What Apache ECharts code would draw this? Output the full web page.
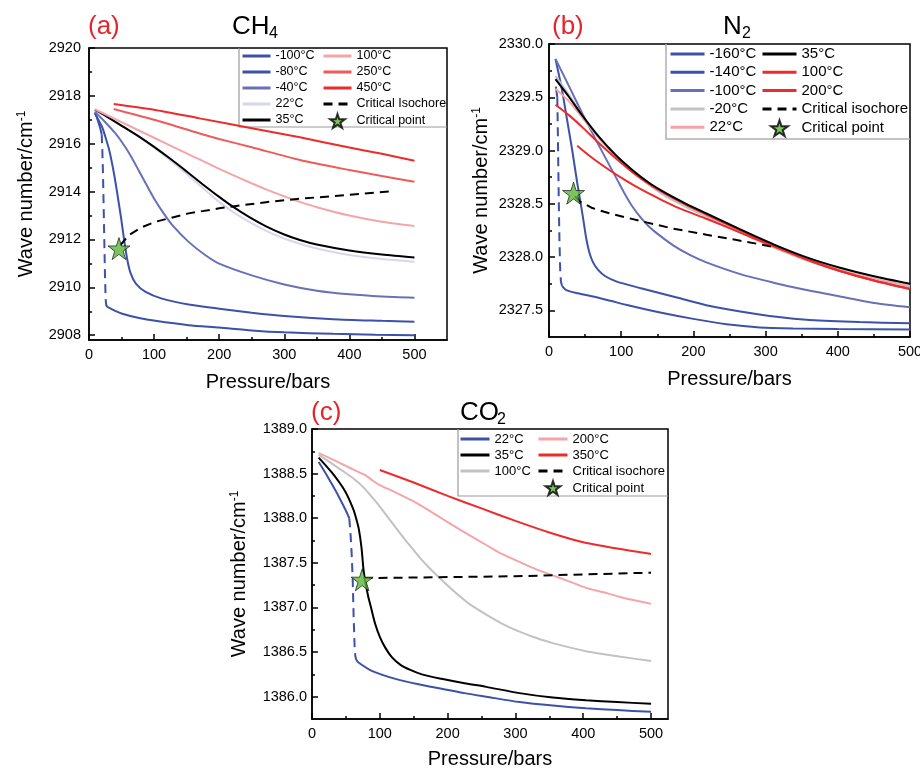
<!DOCTYPE html>
<html>
<head>
<meta charset="utf-8">
<script src="https://cdn.jsdelivr.net/npm/echarts@6/dist/echarts.min.js"></script>
<style>
html, body { margin: 0; background: #fff; }
#main { width: 920px; height: 768px; }
</style>
</head>
<body>
<div id="main"></div>
<script>
// ---- data: [pressure (bars), wave number (cm-1)] ----

// (a) CH4
var ch4_m100_lo = [[9,2917.27],[12,2917.1],[15,2916.85],[17.5,2916.62],[19.5,2916.4]];
var ch4_m100_jump = [[19.5,2916.4],[20.5,2915.7],[21.5,2914.76],[23,2912.67],[24.5,2910.58],[25.6,2909.5],[26.5,2909.26],[28,2909.18]];
var ch4_m100_hi = [[28,2909.18],[40,2909.02],[51,2908.9],[77,2908.72],[102,2908.6],[153,2908.42],[200,2908.32],[250,2908.2],[300,2908.12],[375,2908.06],[440,2908.02],[500,2908.0]];
var ch4_m80 = [[9,2917.3],[14,2917.02],[20,2916.71],[25,2916.3],[31,2915.74],[36,2915.1],[41,2914.34],[45,2913.65],[49,2912.95],[54,2911.97],[59,2911.13],[64,2910.58],[72,2910.16],[87,2909.81],[112,2909.53],[153,2909.28],[200,2909.11],[250,2908.94],[300,2908.8],[375,2908.67],[450,2908.6],[500,2908.56]];
var ch4_m40 = [[9,2917.34],[25,2916.9],[40,2916.45],[51,2916.05],[64,2915.5],[77,2914.85],[90,2914.2],[102,2913.62],[115,2913.08],[128,2912.6],[153,2911.9],[179,2911.34],[200,2910.99],[250,2910.5],[300,2910.12],[350,2909.86],[400,2909.71],[450,2909.62],[500,2909.57]];
var ch4_22 = [[9,2917.42],[25,2917.17],[51,2916.74],[77,2916.29],[100,2915.84],[125,2915.31],[150,2914.74],[175,2914.15],[200,2913.57],[221,2913.15],[247,2912.72],[272,2912.36],[300,2912.04],[324,2911.82],[350,2911.62],[400,2911.35],[450,2911.18],[500,2911.07]];
var ch4_35 = [[9,2917.42],[25,2917.17],[51,2916.74],[77,2916.3],[100,2915.87],[125,2915.37],[150,2914.84],[175,2914.3],[200,2913.78],[221,2913.37],[247,2912.92],[272,2912.55],[300,2912.21],[324,2911.98],[350,2911.79],[400,2911.54],[450,2911.37],[500,2911.25]];
var ch4_100 = [[9,2917.44],[50,2916.9],[100,2916.25],[150,2915.6],[200,2914.95],[247,2914.38],[275,2914.06],[300,2913.8],[324,2913.57],[350,2913.35],[400,2913.0],[450,2912.74],[500,2912.56]];
var ch4_250 = [[38,2917.45],[100,2917.0],[170,2916.43],[200,2916.2],[250,2915.85],[324,2915.32],[400,2914.9],[450,2914.65],[500,2914.41]];
var ch4_450 = [[38,2917.66],[100,2917.42],[170,2917.06],[250,2916.65],[324,2916.27],[400,2915.84],[450,2915.58],[500,2915.29]];
var ch4_iso = [[48,2911.75],[61,2912.18],[80,2912.5],[102,2912.74],[153,2913.09],[200,2913.3],[221,2913.38],[272,2913.56],[324,2913.7],[400,2913.87],[469,2914.02]];
var ch4_cp = [[46,2911.62]];

// (b) N2
var n2_m160_lo = [[9.5,2329.6],[11.5,2329.5]];
var n2_m160_jump = [[11.5,2329.5],[12.5,2329.05],[13.5,2328.55],[14.5,2328.15],[15.5,2327.88],[16.5,2327.77],[18,2327.73]];
var n2_m160_hi = [[18,2327.73],[24,2327.69],[40,2327.66],[61,2327.63],[85,2327.59],[108,2327.55],[154,2327.48],[200,2327.42],[246,2327.37],[292,2327.34],[338,2327.33],[400,2327.325],[500,2327.32]];
var n2_m140 = [[9,2329.86],[18,2329.57],[25,2329.29],[32,2329.01],[39,2328.7],[44,2328.5],[48,2328.33],[52,2328.16],[56,2328.04],[61,2327.95],[68,2327.88],[78,2327.82],[94,2327.77],[126,2327.71],[177,2327.62],[223,2327.54],[265,2327.49],[315,2327.44],[361,2327.41],[430,2327.39],[500,2327.38]];
var n2_m100 = [[9,2329.86],[28,2329.6],[46,2329.35],[65,2329.1],[83,2328.87],[95,2328.72],[106,2328.58],[115,2328.48],[126,2328.38],[138,2328.29],[150,2328.22],[172,2328.11],[195,2328.02],[218,2327.95],[265,2327.84],[311,2327.76],[350,2327.7],[403,2327.63],[450,2327.57],[500,2327.53]];
var n2_m20 = [[9,2329.7],[28,2329.52],[46,2329.33],[69,2329.12],[92,2328.95],[115,2328.8],[138,2328.68],[162,2328.57],[190,2328.47],[218,2328.38],[265,2328.23],[311,2328.09],[360,2327.96],[403,2327.87],[450,2327.79],[500,2327.72]];
var n2_22 = [[9,2329.58],[28,2329.46],[46,2329.31],[69,2329.12],[92,2328.95],[115,2328.81],[138,2328.69],[162,2328.59],[190,2328.49],[218,2328.4],[265,2328.25],[311,2328.11],[360,2327.98],[403,2327.88],[450,2327.8],[500,2327.73]];
var n2_35 = [[9,2329.67],[28,2329.5],[46,2329.33],[69,2329.13],[92,2328.96],[115,2328.82],[138,2328.7],[162,2328.6],[190,2328.5],[218,2328.41],[265,2328.26],[311,2328.12],[360,2327.99],[403,2327.9],[450,2327.82],[500,2327.75]];
var n2_100 = [[9,2329.43],[28,2329.33],[46,2329.22],[69,2329.07],[92,2328.93],[115,2328.8],[138,2328.69],[162,2328.59],[190,2328.49],[218,2328.4],[265,2328.25],[311,2328.11],[360,2327.97],[403,2327.87],[450,2327.78],[500,2327.7]];
var n2_200 = [[39,2329.045],[60,2328.93],[83,2328.82],[106,2328.72],[129,2328.63],[155,2328.54],[180,2328.46],[218,2328.36],[265,2328.23],[311,2328.1],[360,2327.97],[403,2327.87],[450,2327.78],[500,2327.7]];
var n2_iso = [[36,2328.57],[43,2328.52],[60,2328.46],[84,2328.41],[126,2328.34],[170,2328.27],[218,2328.21],[260,2328.16],[292,2328.12],[315,2328.09]];
var n2_cp = [[34,2328.6]];

// (c) CO2
var co2_22_lo = [[9.8,1388.63],[19.6,1388.51],[29.5,1388.38],[39,1388.25],[49,1388.1],[55,1388.0]];
var co2_22_jump = [[55,1388.0],[57,1387.8],[58.5,1387.6],[60,1387.32],[61.4,1386.9],[63,1386.53],[64,1386.45],[65.5,1386.41]];
var co2_22_hi = [[65.5,1386.41],[69,1386.38],[88,1386.29],[123,1386.2],[157,1386.14],[191,1386.09],[225,1386.04],[257,1386.0],[306,1385.94],[355,1385.9],[404,1385.87],[450,1385.85],[500,1385.83]];
var co2_35 = [[9.8,1388.68],[29.5,1388.51],[49,1388.3],[61,1388.1],[65,1388.0],[69,1387.88],[73,1387.67],[76,1387.42],[79,1387.27],[83,1387.12],[88,1386.97],[93,1386.82],[100,1386.67],[108,1386.55],[118,1386.44],[130,1386.36],[145,1386.3],[162,1386.25],[191,1386.2],[225,1386.15],[257,1386.11],[306,1386.04],[355,1385.99],[404,1385.96],[450,1385.94],[500,1385.92]];
var co2_100 = [[9.8,1388.71],[30,1388.61],[49,1388.51],[62,1388.44],[74,1388.36],[86,1388.26],[98,1388.15],[110,1388.03],[123,1387.9],[135,1387.78],[147,1387.67],[160,1387.55],[172,1387.45],[191,1387.31],[208,1387.19],[232,1387.04],[257,1386.92],[280,1386.82],[306,1386.73],[330,1386.66],[355,1386.6],[404,1386.51],[453,1386.45],[500,1386.4]];
var co2_200 = [[9.8,1388.73],[30,1388.66],[49,1388.59],[65,1388.53],[79,1388.48],[90,1388.42],[98,1388.38],[123,1388.29],[147,1388.2],[170,1388.1],[191,1388.0],[208,1387.92],[232,1387.81],[257,1387.7],[280,1387.6],[306,1387.51],[330,1387.43],[355,1387.36],[380,1387.29],[404,1387.22],[430,1387.17],[453,1387.12],[475,1387.08],[500,1387.04]];
var co2_350 = [[100,1388.54],[150,1388.4],[200,1388.25],[250,1388.11],[300,1387.97],[350,1387.84],[400,1387.73],[450,1387.66],[500,1387.6]];
var co2_iso = [[76,1387.33],[150,1387.335],[200,1387.34],[300,1387.35],[400,1387.37],[500,1387.39]];
var co2_cp = [[74,1387.31]];

// tick values
var xMajor = [0, 100, 200, 300, 400, 500];
var xMinor = [50, 150, 250, 350, 450];
var yMajorA = [2908, 2910, 2912, 2914, 2916, 2918, 2920];
var yMinorA = [2909, 2911, 2913, 2915, 2917, 2919];
var yMajorB = [2327.5, 2328, 2328.5, 2329, 2329.5, 2330];
var yMinorB = [2327.75, 2328.25, 2328.75, 2329.25, 2329.75];
var yMajorC = [1386, 1386.5, 1387, 1387.5, 1388, 1388.5, 1389];
var yMinorC = [1386.25, 1386.75, 1387.25, 1387.75, 1388.25, 1388.75];

var FONT = '"Liberation Sans", Arial, sans-serif';
var DBLUE = '#3d51a8', MBLUE = '#6a70b8', LAV = '#d7d7ec', PINK = '#f4a5a9',
    RED = '#ee2a2a', RED2 = '#ef5b5b', GREY = '#c2c2c2', BLACK = '#000';
var STAR = 'path://M50,0 L61.2,34.5 L97.6,34.5 L68.2,55.9 L79.4,90.5 L50,69.1 L20.6,90.5 L31.8,55.9 L2.4,34.5 L38.8,34.5 Z';

function ln(name, data, color, g, dashed) {
    return {
        type: 'line', name: name, data: data, xAxisIndex: g, yAxisIndex: g,
        symbol: 'none', smooth: dashed ? false : 0.25, silent: true,
        lineStyle: { color: color, width: 2, type: dashed ? [9, 6] : 'solid' },
        itemStyle: { color: color }, z: 3
    };
}
function cp(name, data, g) {
    return {
        type: 'scatter', name: name, data: data, xAxisIndex: g, yAxisIndex: g,
        symbol: STAR, symbolSize: 22, silent: true, z: 6,
        itemStyle: { color: '#5cb53a', borderColor: '#000', borderWidth: 0.8 }
    };
}

function xAx(g, max, gap) {
    return {
        type: 'value', gridIndex: g, min: 0, max: max,
        name: 'Pressure/bars', nameLocation: 'middle', nameGap: gap, nameMoveOverlap: false,
        nameTextStyle: { fontSize: 20, color: '#000', fontFamily: FONT },
        axisLine: { lineStyle: { color: '#000', width: 1.5 } },
        axisTick: { inside: true, length: 6, customValues: xMajor, lineStyle: { color: '#000', width: 1.5 } },
        axisLabel: { customValues: xMajor, color: '#000', fontSize: 14.5, margin: 7, fontFamily: FONT },
        splitLine: { show: false }
    };
}
function xMin(g, max) {
    return {
        type: 'value', gridIndex: g, min: 0, max: max, position: 'bottom',
        axisLine: { show: false },
        axisTick: { inside: true, length: 3, customValues: xMinor, lineStyle: { color: '#000', width: 1.5 } },
        axisLabel: { show: false }, splitLine: { show: false }
    };
}
function yAx(g, min, max, major, dec, gap, margin) {
    return {
        type: 'value', gridIndex: g, min: min, max: max,
        name: 'Wave number/cm{sup|-1}', nameLocation: 'middle', nameGap: gap, nameMoveOverlap: false,
        nameTextStyle: { fontSize: 20, color: '#000', fontFamily: FONT,
            rich: { sup: { fontSize: 12, verticalAlign: 'top', color: '#000', fontFamily: FONT } } },
        axisLine: { lineStyle: { color: '#000', width: 1.5 } },
        axisTick: { inside: true, length: 6, customValues: major, lineStyle: { color: '#000', width: 1.5 } },
        axisLabel: { customValues: major, color: '#000', fontSize: 14.5, margin: margin, fontFamily: FONT,
            formatter: function (v) { return v.toFixed(dec); } },
        splitLine: { show: false }
    };
}
function yMin(g, min, max, minor) {
    return {
        type: 'value', gridIndex: g, min: min, max: max, position: 'left',
        axisLine: { show: false },
        axisTick: { inside: true, length: 3, customValues: minor, lineStyle: { color: '#000', width: 1.5 } },
        axisLabel: { show: false }, splitLine: { show: false }
    };
}
// legend column; line items hide the default circle marker, the star keeps its symbol
function lg(names, left, top, w, h, gap, fs) {
    var items = names.map(function (n) {
        return /Critical point/.test(n) ? { name: n } : { name: n, itemStyle: { opacity: 0 } };
    });
    return {
        orient: 'vertical', left: left, top: top, padding: 0, itemWidth: w, itemHeight: h, itemGap: gap,
        selectedMode: false, data: items, lineStyle: { width: 3 },
        formatter: function (n) { return n.slice(2); },
        textStyle: { fontSize: fs, lineHeight: h, color: '#000', fontFamily: FONT }
    };
}
function ttl(text, left, top, size, color) {
    return { text: text, left: left, top: top, padding: 0,
        textStyle: { fontSize: size, fontWeight: 'normal', color: color, fontFamily: FONT } };
}

var myChart = echarts.init(document.getElementById('main'), null, { renderer: 'canvas' });
var option = {
    animation: false,
    backgroundColor: '#fff',
    textStyle: { fontFamily: FONT },
    title: [
        ttl('(a)', 88, 14, 26, '#e8232a'), ttl('CH', 232, 14, 26, '#000'), ttl('4', 269, 26, 16, '#000'),
        ttl('(b)', 552, 14, 26, '#e8232a'), ttl('N', 723, 14, 26, '#000'), ttl('2', 742, 26, 16, '#000'),
        ttl('(c)', 311, 400, 26, '#e8232a'), ttl('CO', 460, 400, 26, '#000'), ttl('2', 497, 412, 16, '#000')
    ],
    grid: [
        { left: 89, top: 48, width: 358, height: 292, show: true, borderColor: '#000', borderWidth: 1.5, outerBoundsMode: 'none' },
        { left: 549, top: 44, width: 361, height: 293, show: true, borderColor: '#000', borderWidth: 1.5, outerBoundsMode: 'none' },
        { left: 312, top: 429, width: 356, height: 290, show: true, borderColor: '#000', borderWidth: 1.5, outerBoundsMode: 'none' }
    ],
    xAxis: [xAx(0, 550, 32), xAx(1, 500, 32), xAx(2, 525, 30), xMin(0, 550), xMin(1, 500), xMin(2, 525)],
    yAxis: [
        yAx(0, 2907.8, 2920, yMajorA, 0, 53, 8),
        yAx(1, 2327.25, 2330, yMajorB, 1, 58, 6),
        yAx(2, 1385.75, 1389, yMajorC, 1, 63, 5),
        yMin(0, 2907.8, 2920, yMinorA), yMin(1, 2327.25, 2330, yMinorB), yMin(2, 1385.75, 1389, yMinorC)
    ],
    legend: [
        lg(['a:-100°C', 'a:-80°C', 'a:-40°C', 'a:22°C', 'a:35°C'], 241, 49, 28, 14, 2, 12.5),
        lg(['a:100°C', 'a:250°C', 'a:450°C', 'a:Critical Isochore', 'a:Critical point'], 322, 49, 28, 14, 2, 12.5),
        lg(['b:-160°C', 'b:-140°C', 'b:-100°C', 'b:-20°C', 'b:22°C'], 669, 46, 34, 16, 2.3, 15),
        lg(['b:35°C', 'b:100°C', 'b:200°C', 'b:Critical isochore', 'b:Critical point'], 761, 46, 34, 16, 2.3, 15),
        lg(['c:22°C', 'c:35°C', 'c:100°C'], 459, 432, 29, 14, 2, 13),
        lg(['c:200°C', 'c:350°C', 'c:Critical isochore', 'c:Critical point'], 537, 432, 29, 14, 2, 13)
    ],
    graphic: [
        { type: 'polyline', z: 3, silent: true, shape: { points: [[239, 48], [239, 127], [447, 127]] }, style: { stroke: '#9a9a9a', lineWidth: 1.2, fill: null } },
        { type: 'polyline', z: 3, silent: true, shape: { points: [[666, 44], [666, 139], [910, 139]] }, style: { stroke: '#b0b0b0', lineWidth: 1.5, fill: null } },
        { type: 'polyline', z: 3, silent: true, shape: { points: [[458, 429], [458, 496], [668, 496]] }, style: { stroke: '#9a9a9a', lineWidth: 1.2, fill: null } }
    ],
    series: [
        // (a)
        ln('a:-100°C', ch4_m100_lo, DBLUE, 0),
        ln('a:-100°C', ch4_m100_jump, DBLUE, 0, true),
        ln('a:-100°C', ch4_m100_hi, DBLUE, 0),
        ln('a:-80°C', ch4_m80, DBLUE, 0),
        ln('a:-40°C', ch4_m40, MBLUE, 0),
        ln('a:22°C', ch4_22, LAV, 0),
        ln('a:35°C', ch4_35, BLACK, 0),
        ln('a:100°C', ch4_100, PINK, 0),
        ln('a:250°C', ch4_250, RED2, 0),
        ln('a:450°C', ch4_450, RED, 0),
        ln('a:Critical Isochore', ch4_iso, BLACK, 0, true),
        cp('a:Critical point', ch4_cp, 0),
        // (b)
        ln('b:-160°C', n2_m160_lo, DBLUE, 1),
        ln('b:-160°C', n2_m160_jump, DBLUE, 1, true),
        ln('b:-160°C', n2_m160_hi, DBLUE, 1),
        ln('b:-140°C', n2_m140, DBLUE, 1),
        ln('b:-100°C', n2_m100, MBLUE, 1),
        ln('b:-20°C', n2_m20, GREY, 1),
        ln('b:22°C', n2_22, PINK, 1),
        ln('b:100°C', n2_100, RED, 1),
        ln('b:200°C', n2_200, RED, 1),
        ln('b:35°C', n2_35, BLACK, 1),
        ln('b:Critical isochore', n2_iso, BLACK, 1, true),
        cp('b:Critical point', n2_cp, 1),
        // (c)
        ln('c:22°C', co2_22_lo, DBLUE, 2),
        ln('c:22°C', co2_22_jump, DBLUE, 2, true),
        ln('c:22°C', co2_22_hi, DBLUE, 2),
        ln('c:100°C', co2_100, GREY, 2),
        ln('c:200°C', co2_200, PINK, 2),
        ln('c:350°C', co2_350, RED, 2),
        ln('c:35°C', co2_35, BLACK, 2),
        ln('c:Critical isochore', co2_iso, BLACK, 2, true),
        cp('c:Critical point', co2_cp, 2)
    ]
};
myChart.setOption(option);
</script>
</body>
</html>
